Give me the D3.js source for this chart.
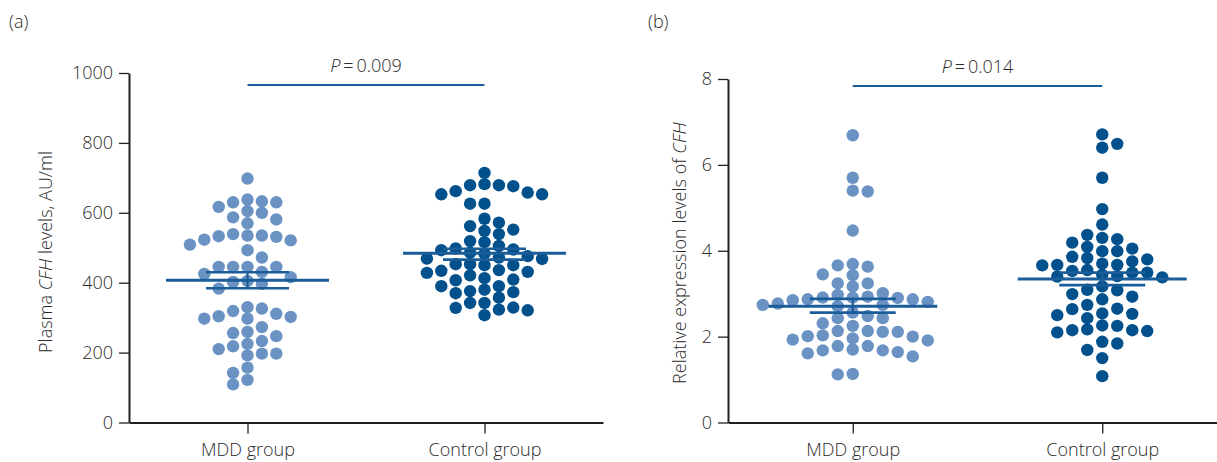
<!DOCTYPE html>
<html><head><meta charset="utf-8">
<script src="https://cdn.jsdelivr.net/npm/d3@7/dist/d3.min.js"></script>
<style>
body{margin:0;background:#fff;}
text{font-family:"Open Sans","DejaVu Sans",sans-serif;font-weight:300;fill:#2a2a2a;}
</style></head>
<body>
<svg id="chart" width="1217" height="462"></svg>
<script>
// ---- data ----
const groups = ["MDD group", "Control group"];

const mddA = [698, 630, 617, 638, 630, 633, 600, 581, 587, 605, 570, 535, 533, 521, 509, 539, 523, 531, 535, 493, 472,
  445, 445, 445, 445, 425, 431, 405, 397, 383, 402, 416, 326, 311, 319, 330, 304, 297, 297, 302, 273, 259, 256, 247,
  233, 218, 210, 225, 197, 192, 197, 142, 157, 109, 122];
const controlA = [714, 682, 679, 676, 679, 653, 653, 658, 662, 626, 626, 572, 552, 548, 562, 583, 539, 519, 505, 516,
  498, 493, 483, 472, 468, 453, 469, 476, 486, 495, 453, 450, 434, 428, 413, 407, 409, 421, 431, 436, 450, 390, 376,
  370, 357, 373, 380, 390, 342, 328, 323, 307, 321, 329, 342];
const mddB = [6.69, 5.70, 5.38, 5.40, 4.47, 3.69, 3.63, 3.66, 3.45, 3.43, 3.24, 3.24, 3.17, 3.01, 2.93, 2.91, 2.87,
  2.85, 2.87, 2.91, 2.90, 2.97, 2.81, 2.74, 2.74, 2.71, 2.77, 2.56, 2.43, 2.43, 2.48, 2.31, 2.13, 2.11, 2.03, 2.00,
  1.93, 1.96, 2.01, 2.11, 2.13, 2.25, 1.91, 1.78, 1.70, 1.68, 1.61, 1.54, 1.64, 1.68, 1.78, 1.12, 1.13];
const controlB = [6.71, 6.49, 6.40, 5.70, 4.97, 4.61, 4.30, 4.19, 4.09, 4.27, 4.37, 3.99, 3.99, 4.05, 3.86, 3.80,
  3.70, 3.75, 3.83, 3.67, 3.55, 3.49, 3.66, 3.67, 3.44, 3.40, 3.38, 3.41, 3.49, 3.53, 3.08, 2.99, 2.87, 2.93, 3.09,
  3.17, 2.74, 2.64, 2.53, 2.50, 2.54, 2.65, 2.43, 2.26, 2.17, 2.13, 2.10, 2.15, 2.15, 2.25, 1.88, 1.69, 1.84, 1.50, 1.08];

// mean and SEM bar ends per group
const meanA = [407, 484], upperA = [430, 497], lowerA = [384, 466];
const meanB = [2.71, 3.34], upperB = [2.88, 3.49], lowerB = [2.56, 3.20];

const ticksA = [0, 200, 400, 600, 800, 1000];
const ticksB = [0, 2, 4, 6, 8];
const pTextA = "0.009", pTextB = "0.014";
const titleA = ["Plasma ", "CFH", " levels, AU/ml"];
const titleB = ["Relative expression levels of ", "CFH"];

// ---- drawing ----
const svg = d3.select("#chart");
const colLight = "#6a93c4", colDark = "#02518d", lineCol = "#1a5d98", axisCol = "#231f20";
const FS = "18px";

function swarm(values, y, cx, step, gap) {
  const order = values.map((v, i) => i).sort((a, b) => values[b] - values[a]);
  const slots = new Map();
  const out = [];
  let left = 0, right = 0;
  for (const i of order) {
    const py = y(values[i]);
    let chosen = null;
    for (let k = 0; k < 60 && chosen === null; k++) {
      const cands = k === 0 ? [0] : (left < right ? [-k, k] : [k, -k]);
      for (const s of cands) {
        const arr = slots.get(s) || [];
        if (arr.every(q => Math.abs(q - py) >= gap)) { chosen = s; break; }
      }
    }
    if (!slots.has(chosen)) slots.set(chosen, []);
    slots.get(chosen).push(py);
    if (chosen < 0) left++; else if (chosen > 0) right++;
    out.push({x: cx + chosen * step, y: py});
  }
  return out;
}

function panel(opt) {
  const g = svg.append("g");
  const x = d3.scalePoint().domain(groups).range(opt.xr).padding(0.5);
  const y = d3.scaleLinear().domain(opt.yd).range(opt.yr);

  // axes
  const ya = g.append("g").attr("transform", `translate(${opt.xr[0]},0)`)
    .call(d3.axisLeft(y).tickValues(opt.ticks).tickFormat(d3.format("d")).tickSize(10).tickPadding(6).tickSizeOuter(0));
  const xa = g.append("g").attr("transform", `translate(0,${opt.yr[0]})`)
    .call(d3.axisBottom(x).tickSize(11).tickPadding(10).tickSizeOuter(0));
  [ya, xa].forEach(a => {
    a.attr("font-family", null);
    a.select(".domain").attr("stroke", axisCol).attr("stroke-width", 2);
    a.selectAll(".tick line").attr("stroke", axisCol).attr("stroke-width", 1.3);
    a.selectAll(".tick text").style("font-size", FS).attr("fill", "#2a2a2a");
  });

  // dots
  [opt.d0, opt.d1].forEach((vals, gi) => {
    const pts = swarm(vals, y, x(groups[gi]), opt.step, 11);
    g.append("g").selectAll("circle").data(pts).join("circle")
      .attr("cx", d => d.x).attr("cy", d => d.y).attr("r", 6.2)
      .attr("fill", gi === 0 ? colLight : colDark);
  });

  // mean and SEM
  groups.forEach((grp, gi) => {
    const cx = x(grp);
    const ln = (x1, x2, y1, y2, w) => g.append("line").attr("x1", x1).attr("x2", x2).attr("y1", y1).attr("y2", y2)
      .attr("stroke", lineCol).attr("stroke-width", w);
    ln(cx - opt.meanHalf, cx + opt.meanHalf, y(opt.mean[gi]), y(opt.mean[gi]), 3);
    ln(cx, cx, y(opt.upper[gi]), y(opt.lower[gi]), 2.2);
    ln(cx - opt.capHalf, cx + opt.capHalf, y(opt.upper[gi]), y(opt.upper[gi]), 2.6);
    ln(cx - opt.capHalf, cx + opt.capHalf, y(opt.lower[gi]), y(opt.lower[gi]), 2.6);
  });

  // significance line
  g.append("line").attr("x1", x(groups[0])).attr("x2", x(groups[1]))
    .attr("y1", opt.pY).attr("y2", opt.pY).attr("stroke", lineCol).attr("stroke-width", 2);
  const pt = g.append("text").attr("x", (x(groups[0]) + x(groups[1])) / 2).attr("y", opt.pY - 13)
    .attr("text-anchor", "middle").style("font-size", FS);
  pt.append("tspan").attr("font-style", "italic").text("P");
  pt.append("tspan").text("\u2009=\u2009" + opt.p);

  // y title
  const t = g.append("text").attr("transform", `translate(${opt.titleX},${opt.titleY}) rotate(-90)`)
    .attr("text-anchor", "middle").style("font-size", FS);
  opt.title.forEach(s => t.append("tspan").attr("font-style", s === "CFH" ? "italic" : null).text(s));

  // panel letter
  g.append("text").attr("x", opt.letterX).attr("y", 28).style("font-size", FS).text(opt.letter);
}

panel({xr: [129, 603], yd: [0, 1000], yr: [422.5, 73], ticks: ticksA, d0: mddA, d1: controlA, step: 14.4,
  mean: meanA, upper: upperA, lower: lowerA, meanHalf: 81.5, capHalf: 41.5, pY: 85, p: pTextA,
  title: titleA, titleX: 52, titleY: 252, letter: "(a)", letterX: 9});
panel({xr: [728, 1227], yd: [0, 8], yr: [422.5, 79], ticks: ticksB, d0: mddB, d1: controlB, step: 15,
  mean: meanB, upper: upperB, lower: lowerB, meanHalf: 84.5, capHalf: 43, pY: 86, p: pTextB,
  title: titleB, titleX: 686, titleY: 253, letter: "(b)", letterX: 648});
</script>
</body></html>
